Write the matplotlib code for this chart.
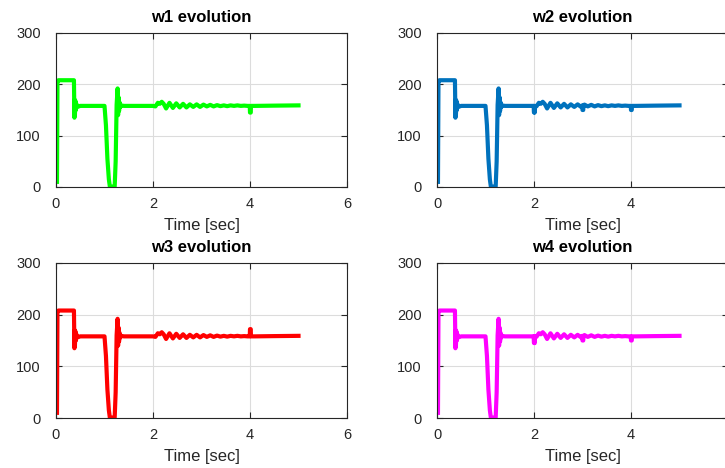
import matplotlib
matplotlib.use("Agg")
import matplotlib.pyplot as plt

plt.rcParams['font.family'] = ['Liberation Sans', 'DejaVu Sans']

# ---- data ----
titles = ["w1 evolution", "w2 evolution", "w3 evolution", "w4 evolution"]
colors = ["#00ff00", "#0072bd", "#ff0000", "#ff00ff"]

# common transient (0 - 2 s)
t_start = [0.02, 0.03, 0.05, 0.37, 0.38, 0.385, 0.39, 0.40, 0.41, 0.42, 0.44, 0.50,
           1.00, 1.03, 1.06, 1.09, 1.11, 1.21, 1.23, 1.25, 1.27, 1.28, 1.29, 1.30,
           1.31, 1.32, 1.34, 1.40]
w_start = [10, 205, 208, 208, 135, 170, 140, 168, 150, 162, 156, 158,
           158, 120, 55, 15, 1, 1, 50, 160, 192, 140, 175, 148,
           165, 155, 159, 158]

# common oscillation (2 - 5 s)
t_osc = [2.00, 2.05, 2.10, 2.14, 2.18, 2.22, 2.27, 2.34, 2.41, 2.48, 2.55, 2.62,
         2.69, 2.76, 2.83, 2.90, 2.97, 3.04, 3.11, 3.18, 3.25, 3.32, 3.39, 3.46,
         3.53, 3.60, 3.67, 3.74, 3.81, 3.88, 3.95, 4.10, 4.50, 5.00]
w_osc = [158, 157, 164, 162, 166, 162, 153, 164, 154, 163, 155, 162,
         155, 161, 156, 161, 156, 160.5, 157, 160, 157, 159.5, 157.5, 159,
         157.5, 159, 158, 159, 158, 158.5, 158, 158, 158.5, 159]

# per-series short spikes: (time, value)
events = [
    [(3.995, 158), (4.00, 145), (4.015, 145), (4.02, 158)],
    [(1.995, 158), (2.00, 145), (2.015, 145), (2.02, 158),
     (2.995, 159), (3.00, 150), (3.015, 150), (3.02, 158),
     (3.995, 158), (4.00, 150), (4.015, 150), (4.02, 158)],
    [(3.995, 158), (4.00, 172), (4.015, 172), (4.02, 158)],
    [(1.995, 158), (2.00, 145), (2.015, 145), (2.02, 158),
     (2.995, 159), (3.00, 150), (3.015, 150), (3.02, 158),
     (3.995, 158), (4.00, 150), (4.015, 150), (4.02, 158)],
]

x_ticks = [0, 2, 4, 6]
y_ticks = [0, 100, 200, 300]

W, H = 725, 468
fig = plt.figure(figsize=(W / 100, H / 100), dpi=100)

# axes boxes in pixels: (left, top, width, height)
boxes = [(56, 33, 291, 154), (437, 33, 291, 154),
         (56, 263, 291, 155), (437, 263, 291, 155)]

ink = "#262626"
for i, (l, t, w, h) in enumerate(boxes):
    ax = fig.add_axes([l / W, (H - t - h) / H, w / W, h / H])
    pts = sorted(list(zip(t_start, w_start)) + list(zip(t_osc, w_osc)) + events[i])
    ts = [p[0] for p in pts]
    vs = [p[1] for p in pts]
    ax.plot(ts, vs, color=colors[i], lw=3.0, solid_joinstyle='round', clip_on=True)
    ax.set_xlim(0, 6)
    ax.set_ylim(0, 300)
    ax.set_xticks(x_ticks)
    ax.set_yticks(y_ticks)
    ax.grid(True, color="#dcdcdc", lw=0.8)
    ax.set_axisbelow(True)
    ax.tick_params(direction='in', top=True, right=True, length=4, width=0.8,
                   colors=ink, labelsize=10.5)
    ax.tick_params(axis='y', pad=11)
    ax.tick_params(axis='x', pad=7)
    for lab in ax.get_yticklabels():
        lab.set_verticalalignment('center_baseline')
    for s in ax.spines.values():
        s.set_color(ink)
        s.set_linewidth(0.8)
    ax.set_title(titles[i], fontsize=12, fontweight='bold', color='black', pad=8)
    ax.set_xlabel("Time [sec]", fontsize=12, color=ink, labelpad=5)

fig.savefig("out.png", dpi=100)
